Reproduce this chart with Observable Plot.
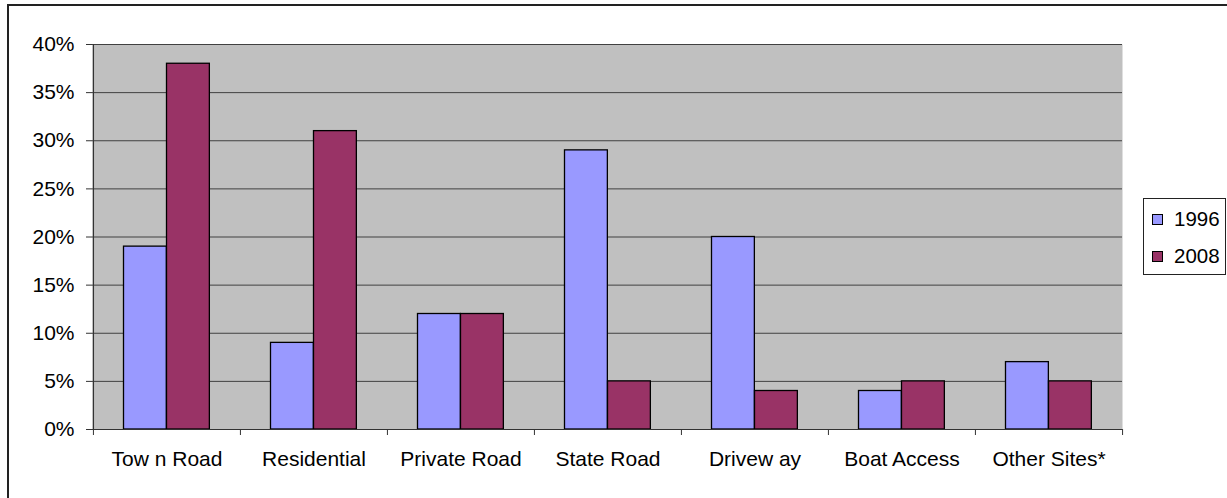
<!DOCTYPE html>
<html><head><meta charset="utf-8">
<script src="https://cdn.jsdelivr.net/npm/d3@7"></script>
<script src="https://cdn.jsdelivr.net/npm/@observablehq/plot@0.6"></script>
<style>
html,body{margin:0;padding:0;background:#fff;overflow:hidden;}
#wrap{position:relative;width:1227px;height:498px;overflow:hidden;font-family:"Liberation Sans",Arial,sans-serif;}
#border{position:absolute;left:7px;top:4px;width:1400px;height:700px;border:2px solid #222;box-sizing:border-box;}
#chart{position:absolute;left:0;top:0;}
#legend{position:absolute;left:1143px;top:198px;width:83px;height:77px;border:1px solid #222;box-sizing:border-box;background:#fff;font-size:20.5px;color:#000;}
#legend .item{position:absolute;left:8px;display:flex;align-items:center;}
#legend .sw{width:9px;height:9px;border:1px solid #000;margin-right:11px;}
</style>
</head><body>
<div id="wrap"><div id="border"></div><div id="chart"></div><div id="legend"></div></div>
<script>
const categories = ["Tow n Road","Residential","Private Road","State Road","Drivew ay","Boat Access","Other Sites*"];
const years = ["1996","2008"];
const values1996 = [19, 9, 12, 29, 20, 4, 7];
const values2008 = [38, 31, 12, 5, 4, 5, 5];
const yTicks = [0, 5, 10, 15, 20, 25, 30, 35, 40];
const colors = ["#9999FF", "#993366"];

const W = 1227, H = 498, mL = 92, mR = 105, mT = 44, mB = 69;
const bw = (W - mL - mR) / categories.length;
const rows1996 = categories.map((c, i) => ({category: c, year: years[0], value: values1996[i]}));
const rows2008 = categories.map((c, i) => ({category: c, year: years[1], value: values2008[i]}));
const barW = 43, outer = 30.5;

const chart = Plot.plot({
  width: W, height: H, marginLeft: mL, marginRight: mR, marginTop: mT, marginBottom: mB,
  style: {fontFamily: '"Liberation Sans", Arial, sans-serif', fontSize: "21px", background: "transparent", color: "#000", overflow: "visible"},
  x: {type: "band", domain: categories, padding: 0},
  y: {domain: [0, 40]},
  marks: [
    Plot.frame({fill: "#C0C0C0", stroke: null}),
    Plot.ruleY(yTicks.filter(t => t > 0), {stroke: "#404040", strokeWidth: 1}),
    Plot.barY(rows1996, {x: "category", y: "value", fill: colors[0], stroke: "#000", strokeWidth: 1.3, insetLeft: outer, insetRight: bw - outer - barW}),
    Plot.barY(rows2008, {x: "category", y: "value", fill: colors[1], stroke: "#000", strokeWidth: 1.3, insetLeft: outer + barW, insetRight: bw - outer - 2 * barW}),
    Plot.ruleY([0], {stroke: "#333", strokeWidth: 1.2}),
    Plot.ruleX([categories[0]], {x: d => d, dx: -bw / 2, y1: 0, y2: 40, stroke: "#333", strokeWidth: 1.2}),
    Plot.ruleX(categories, {x: d => d, dx: -bw / 2, y1: 0, insetBottom: -6, stroke: "#333"}),
    Plot.ruleX([categories[categories.length - 1]], {x: d => d, dx: bw / 2, y1: 0, insetBottom: -6, stroke: "#333"}),
    Plot.axisY({ticks: yTicks, tickSize: 6, tickPadding: 12, tickFormat: d => d + "%", fontSize: 21, label: null, stroke: "#333"}),
    Plot.axisX({tickSize: 0, tickPadding: 22, fontSize: 21, label: null})
  ]
});
document.getElementById("chart").appendChild(chart);

const legend = document.getElementById("legend");
years.forEach((y, i) => {
  const item = document.createElement("div");
  item.className = "item";
  item.style.top = (8 + i * 37) + "px";
  const sw = document.createElement("div");
  sw.className = "sw";
  sw.style.background = colors[i];
  const t = document.createElement("span");
  t.textContent = y;
  item.appendChild(sw); item.appendChild(t);
  legend.appendChild(item);
});
</script>
</body></html>
